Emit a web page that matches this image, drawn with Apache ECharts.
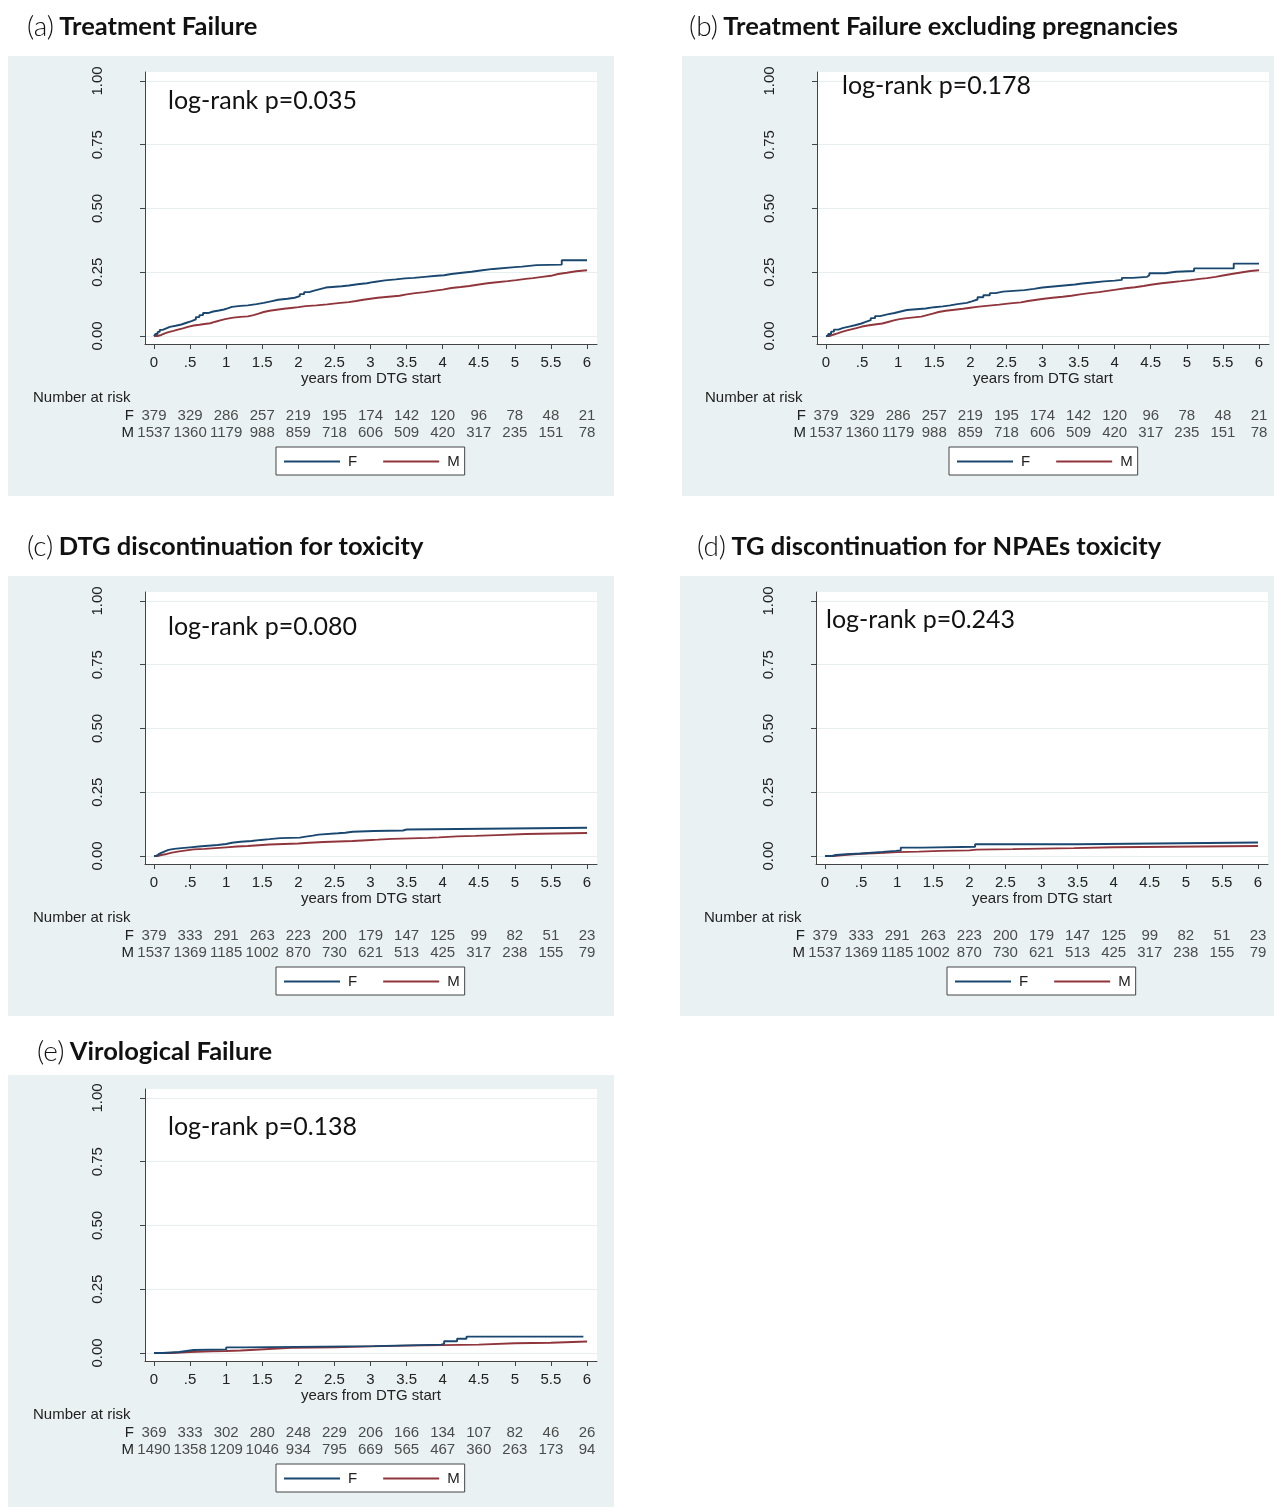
<!DOCTYPE html>
<html><head><meta charset="utf-8">
<script src="https://cdn.jsdelivr.net/npm/echarts@6/dist/echarts.min.js"></script>
<style>html,body{margin:0;padding:0;background:#fff}#c{width:1274px;height:1507px}</style>
</head><body><div id="c"></div><script>
// ---------- tick values / labels ----------
const xTicks = [0,0.5,1,1.5,2,2.5,3,3.5,4,4.5,5,5.5,6];
const xTickLabels = ['0','.5','1','1.5','2','2.5','3','3.5','4','4.5','5','5.5','6'];
const yTicks = [0,0.25,0.5,0.75,1];
const yTickLabels = ['0.00','0.25','0.50','0.75','1.00'];
const riskTimes = [0,0.5,1,1.5,2,2.5,3,3.5,4,4.5,5,5.5,6];
const groupNames = ['F','M'];

// ---------- titles / annotations ----------
const panelLetters = ['(a)','(b)','(c)','(d)','(e)'];
const panelTitles = ['Treatment Failure','Treatment Failure excluding pregnancies','DTG discontinuation for toxicity','TG discontinuation for NPAEs toxicity','Virological Failure'];
const pValueTexts = ['log-rank p=0.035','log-rank p=0.178','log-rank p=0.080','log-rank p=0.243','log-rank p=0.138'];
const xAxisTitle = 'years from DTG start';
const riskTitle = 'Number at risk';

// ---------- number at risk ----------
const riskA_F = [379,329,286,257,219,195,174,142,120,96,78,48,21];
const riskA_M = [1537,1360,1179,988,859,718,606,509,420,317,235,151,78];
const riskB_F = [379,329,286,257,219,195,174,142,120,96,78,48,21];
const riskB_M = [1537,1360,1179,988,859,718,606,509,420,317,235,151,78];
const riskC_F = [379,333,291,263,223,200,179,147,125,99,82,51,23];
const riskC_M = [1537,1369,1185,1002,870,730,621,513,425,317,238,155,79];
const riskD_F = [379,333,291,263,223,200,179,147,125,99,82,51,23];
const riskD_M = [1537,1369,1185,1002,870,730,621,513,425,317,238,155,79];
const riskE_F = [369,333,302,280,248,229,206,166,134,107,82,46,26];
const riskE_M = [1490,1358,1209,1046,934,795,669,565,467,360,263,173,94];

// ---------- cumulative incidence step curves [years, value] ----------
const curveA_F = [[0,0],[0.02,0.008],[0.05,0.016],[0.08,0.024],[0.12,0.03],[0.17,0.036],[0.22,0.04],[0.3,0.045],[0.38,0.052],[0.45,0.058],[0.52,0.065],[0.58,0.074],[0.63,0.082],[0.68,0.09],[0.75,0.096],[0.82,0.1],[0.9,0.104],[0.97,0.108],[1.02,0.114],[1.08,0.118],[1.2,0.12],[1.3,0.125],[1.42,0.13],[1.52,0.136],[1.62,0.142],[1.72,0.146],[1.85,0.15],[1.95,0.156],[2.02,0.164],[2.08,0.172],[2.15,0.178],[2.22,0.184],[2.3,0.19],[2.38,0.195],[2.6,0.198],[2.7,0.203],[2.82,0.207],[2.95,0.212],[3.05,0.218],[3.2,0.222],[3.35,0.226],[3.48,0.228],[3.6,0.232],[3.75,0.236],[3.92,0.238],[4.02,0.243],[4.12,0.249],[4.3,0.252],[4.4,0.258],[4.55,0.263],[4.7,0.27],[5.0,0.272],[5.1,0.278],[5.3,0.28],[5.65,0.297],[6.0,0.297]];
const curveA_M = [[0,0],[0.05,0.004],[0.1,0.01],[0.15,0.015],[0.2,0.02],[0.27,0.025],[0.33,0.03],[0.4,0.036],[0.47,0.041],[0.55,0.044],[0.63,0.047],[0.7,0.05],[0.78,0.056],[0.85,0.062],[0.93,0.067],[1.0,0.072],[1.1,0.075],[1.2,0.077],[1.3,0.082],[1.38,0.088],[1.45,0.094],[1.52,0.099],[1.6,0.103],[1.7,0.107],[1.8,0.11],[1.9,0.113],[2.0,0.117],[2.1,0.12],[2.25,0.124],[2.4,0.129],[2.55,0.133],[2.7,0.137],[2.8,0.142],[2.9,0.146],[3.0,0.15],[3.1,0.154],[3.25,0.158],[3.4,0.163],[3.5,0.168],[3.62,0.172],[3.75,0.177],[3.87,0.182],[4.0,0.188],[4.12,0.192],[4.25,0.196],[4.37,0.201],[4.48,0.207],[4.62,0.211],[4.75,0.215],[4.9,0.219],[5.02,0.224],[5.15,0.227],[5.25,0.232],[5.38,0.236],[5.5,0.243],[5.6,0.248],[5.72,0.254],[5.85,0.258],[6.0,0.259]];
const curveB_F = [[0,0],[0.03,0.008],[0.07,0.017],[0.11,0.025],[0.17,0.032],[0.24,0.037],[0.32,0.042],[0.4,0.048],[0.48,0.055],[0.55,0.062],[0.62,0.07],[0.68,0.078],[0.75,0.085],[0.85,0.09],[0.95,0.095],[1.02,0.102],[1.12,0.105],[1.25,0.108],[1.38,0.113],[1.5,0.116],[1.62,0.12],[1.72,0.125],[1.82,0.13],[1.95,0.136],[2.02,0.143],[2.1,0.152],[2.18,0.16],[2.27,0.168],[2.35,0.174],[2.45,0.178],[2.65,0.18],[2.75,0.185],[2.88,0.19],[3.0,0.194],[3.15,0.198],[3.3,0.202],[3.45,0.206],[3.55,0.21],[3.7,0.214],[3.85,0.217],[4.0,0.22],[4.1,0.228],[4.25,0.232],[4.45,0.238],[4.48,0.246],[4.7,0.252],[4.85,0.255],[5.1,0.265],[5.65,0.284],[6.0,0.284]];
const curveB_M = [[0,0],[0.05,0.005],[0.1,0.01],[0.16,0.016],[0.22,0.021],[0.28,0.026],[0.35,0.031],[0.42,0.037],[0.5,0.042],[0.6,0.046],[0.7,0.049],[0.78,0.055],[0.86,0.061],[0.94,0.066],[1.02,0.07],[1.12,0.073],[1.22,0.076],[1.32,0.082],[1.4,0.088],[1.48,0.094],[1.56,0.099],[1.66,0.103],[1.78,0.107],[1.9,0.111],[2.0,0.115],[2.12,0.119],[2.26,0.123],[2.4,0.128],[2.55,0.132],[2.7,0.137],[2.8,0.142],[2.92,0.146],[3.02,0.15],[3.14,0.154],[3.28,0.158],[3.4,0.163],[3.52,0.168],[3.65,0.172],[3.78,0.177],[3.9,0.182],[4.02,0.187],[4.15,0.191],[4.28,0.196],[4.4,0.201],[4.5,0.207],[4.65,0.211],[4.78,0.215],[4.92,0.219],[5.05,0.224],[5.18,0.227],[5.28,0.232],[5.4,0.237],[5.5,0.243],[5.62,0.249],[5.75,0.255],[5.88,0.258],[6.0,0.259]];
const curveC_F = [[0,0],[0.03,0.006],[0.06,0.012],[0.1,0.018],[0.15,0.024],[0.2,0.028],[0.28,0.031],[0.38,0.034],[0.5,0.037],[0.62,0.04],[0.75,0.043],[0.88,0.047],[1.0,0.052],[1.08,0.056],[1.2,0.059],[1.35,0.063],[1.48,0.066],[1.6,0.07],[1.75,0.072],[2.02,0.075],[2.08,0.08],[2.2,0.084],[2.28,0.089],[2.55,0.091],[2.65,0.095],[2.75,0.098],[3.05,0.1],[3.45,0.104],[3.5,0.111],[6.0,0.111]];
const curveC_M = [[0,0],[0.05,0.004],[0.1,0.008],[0.18,0.013],[0.25,0.018],[0.35,0.022],[0.45,0.026],[0.55,0.028],[0.7,0.031],[0.85,0.034],[1.0,0.037],[1.15,0.039],[1.3,0.042],[1.45,0.045],[1.6,0.047],[1.8,0.049],[2.0,0.052],[2.15,0.055],[2.35,0.057],[2.55,0.059],[2.75,0.062],[2.95,0.064],[3.1,0.067],[3.3,0.069],[3.55,0.071],[3.8,0.073],[3.95,0.077],[4.2,0.079],[4.45,0.082],[4.75,0.086],[5.15,0.09],[6.0,0.091]];
const curveD_F = [[0,0],[0.1,0.004],[0.15,0.007],[0.3,0.01],[0.5,0.013],[0.65,0.016],[0.8,0.02],[0.98,0.022],[1.05,0.033],[1.35,0.036],[2.08,0.046],[3.5,0.053],[6.0,0.053]];
const curveD_M = [[0,0],[0.12,0.005],[0.3,0.009],[0.5,0.012],[0.75,0.015],[1.0,0.017],[1.3,0.02],[1.6,0.022],[2.0,0.025],[2.1,0.027],[2.6,0.029],[3.0,0.031],[3.45,0.034],[4.0,0.039],[6.0,0.04]];
const curveE_F = [[0,0],[0.12,0.004],[0.35,0.01],[0.5,0.012],[0.55,0.014],[1.0,0.022],[1.25,0.027],[3.05,0.033],[3.98,0.036],[4.02,0.046],[4.2,0.056],[4.33,0.064],[5.95,0.064]];
const curveE_M = [[0,0],[0.25,0.004],[0.5,0.007],[0.8,0.008],[1.0,0.01],[1.2,0.013],[1.4,0.02],[1.9,0.022],[2.5,0.026],[3.0,0.029],[3.5,0.031],[4.0,0.033],[4.5,0.038],[5.0,0.04],[5.5,0.045],[6.0,0.045]];

const curvesF = [curveA_F, curveB_F, curveC_F, curveD_F, curveE_F];
const curvesM = [curveA_M, curveB_M, curveC_M, curveD_M, curveE_M];
const risksF = [riskA_F, riskB_F, riskC_F, riskD_F, riskE_F];
const risksM = [riskA_M, riskB_M, riskC_M, riskD_M, riskE_M];

// ---------- layout (positions / styles only) ----------
const layouts = [
  {box:[8,56,606,440],  left:145, top:72,   title:[27,27],   p:[168,101],  nar:[33,398],   riskTop:407,  legend:[276,447]},
  {box:[682,56,592,440],left:817, top:72,   title:[689,27],  p:[842,86],   nar:[705,398],  riskTop:407,  legend:[949,447]},
  {box:[8,576,606,440], left:145, top:592,  title:[27,547],  p:[168,627],  nar:[33,918],   riskTop:927,  legend:[276,967]},
  {box:[680,576,594,440],left:816,top:592,  title:[697,547], p:[826,620],  nar:[704,918],  riskTop:927,  legend:[947,967]},
  {box:[8,1075,606,432],left:145, top:1089, title:[37,1052], p:[168,1127], nar:[33,1415],  riskTop:1424, legend:[276,1464]}
];
const PLOT_W = 452, PLOT_H = 272;
const X_MIN = -0.1247, X_MAX = 6.1386, Y_MIN = -0.0314, Y_MAX = 1.0353;
const COL_F = '#1a476f', COL_M = '#90353b';
const AX_FONT = '"Liberation Sans", Arial, sans-serif';
const TXT = '#222';

const grid = [], xAxis = [], yAxis = [], series = [], legend = [], graphic = [];

layouts.forEach((L, i) => {
  const g0 = 2*i, g1 = 2*i+1;
  grid.push({left:L.left, top:L.top, width:PLOT_W, height:PLOT_H, show:true, backgroundColor:'#fff', borderWidth:0, outerBoundsMode:'none', containLabel:false});
  grid.push({left:L.left, top:L.riskTop, width:PLOT_W, height:34, outerBoundsMode:'none', containLabel:false});
  xAxis.push({
    type:'value', gridIndex:g0, min:X_MIN, max:X_MAX,
    name:xAxisTitle, nameLocation:'middle', nameGap:27,
    nameTextStyle:{fontFamily:AX_FONT, fontSize:15, color:TXT},
    axisLine:{show:true, onZero:false, lineStyle:{color:'#444', width:1}},
    axisTick:{show:true, length:5, customValues:xTicks, lineStyle:{color:'#444'}},
    axisLabel:{show:true, margin:11, customValues:xTicks, fontFamily:AX_FONT, fontSize:15, color:TXT,
      formatter:v => { const k = xTicks.findIndex(t => Math.abs(t-v) < 1e-6); return k >= 0 ? xTickLabels[k] : ''; }},
    splitLine:{show:false}
  });
  xAxis.push({type:'value', gridIndex:g1, min:X_MIN, max:X_MAX, show:false});
  yAxis.push({
    type:'value', gridIndex:g0, min:Y_MIN, max:Y_MAX,
    axisLine:{show:true, onZero:false, lineStyle:{color:'#444', width:1}},
    axisTick:{show:true, length:5, customValues:yTicks, lineStyle:{color:'#444'}},
    axisLabel:{show:true, rotate:90, margin:40, customValues:yTicks, fontFamily:AX_FONT, fontSize:15, color:TXT,
      formatter:v => { const k = yTicks.findIndex(t => Math.abs(t-v) < 1e-6); return k >= 0 ? yTickLabels[k] : ''; }},
    splitLine:{show:true, lineStyle:{color:'#e6eef0', width:1}}
  });
  yAxis.push({
    type:'category', gridIndex:g1, data:groupNames, inverse:true,
    axisLine:{show:false}, axisTick:{show:false}, splitLine:{show:false},
    axisLabel:{show:true, interval:0, hideOverlap:false, margin:11, fontFamily:AX_FONT, fontSize:15, color:TXT}
  });
  series.push({name:'F', type:'line', xAxisIndex:g0, yAxisIndex:g0, data:curvesF[i], step:'end', symbol:'none', showSymbol:false,
    lineStyle:{color:COL_F, width:1.9}, itemStyle:{color:COL_F}, z:3});
  series.push({name:'M', type:'line', xAxisIndex:g0, yAxisIndex:g0, data:curvesM[i], step:'end', symbol:'none', showSymbol:false,
    lineStyle:{color:COL_M, width:1.9}, itemStyle:{color:COL_M}, z:2});
  [['F', risksF[i]], ['M', risksM[i]]].forEach(([g, arr]) => {
    series.push({name:'risk '+g, type:'scatter', xAxisIndex:g1, yAxisIndex:g1, symbolSize:0,
      data: riskTimes.map((t,k) => [t, g, arr[k]]),
      label:{show:true, position:'inside', formatter:p => String(p.value[2]), fontFamily:AX_FONT, fontSize:15, color:TXT},
      silent:true});
  });
  legend.push({
    left:L.legend[0], top:L.legend[1], orient:'horizontal', data:groupNames,
    selectedMode:false, icon:'rect', itemWidth:56, itemHeight:2, itemGap:26,
    padding:[7,5,6,8], backgroundColor:'#fff', borderColor:'#444', borderWidth:1, borderRadius:0,
    textStyle:{fontFamily:AX_FONT, fontSize:15, color:TXT, padding:[0,0,0,3]}
  });
  graphic.push({type:'rect', z:-100, silent:true, shape:{x:L.box[0], y:L.box[1], width:L.box[2], height:L.box[3]}, style:{fill:'#eaf1f3'}});
  graphic.push({type:'text', z:10, x:L.title[0], y:L.title[1], style:{
    text:'{l|'+panelLetters[i]+'} {b|'+panelTitles[i]+'}', verticalAlign:'middle', align:'left',
    rich:{l:{fontFamily:'Lato', fontWeight:300, fontSize:28, fill:'#111', padding:[0,2,0,0]}, b:{fontFamily:'Lato', fontWeight:'bold', fontSize:25.5, fill:'#111'}}}});
  graphic.push({type:'text', z:10, x:L.p[0], y:L.p[1], style:{text:pValueTexts[i], font:'25px Lato', fill:'#111', verticalAlign:'middle', align:'left'}});
  graphic.push({type:'text', z:10, x:L.nar[0], y:L.nar[1], style:{text:riskTitle, font:'15px "Liberation Sans", Arial, sans-serif', fill:TXT, verticalAlign:'middle', align:'left'}});
});

const chart = echarts.init(document.getElementById('c'), null, {renderer:'canvas', width:1274, height:1507});
chart.setOption({animation:false, backgroundColor:'#fff', grid, xAxis, yAxis, series, legend, graphic});
</script></body></html>
